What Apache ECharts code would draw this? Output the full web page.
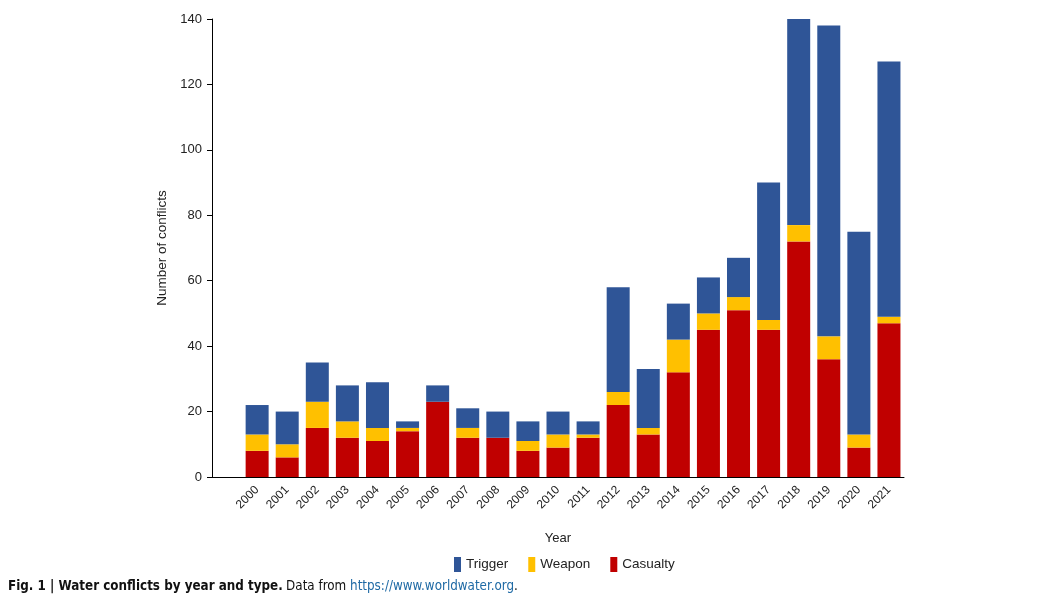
<!DOCTYPE html>
<html><head><meta charset="utf-8">
<script src="https://cdn.jsdelivr.net/npm/echarts@6/dist/echarts.min.js"></script>
<style>html,body{margin:0;padding:0;background:#fff}#c{width:1053px;height:613px}</style>
</head><body><div id="c"></div>
<script>
const years = ['', '2000','2001','2002','2003','2004','2005','2006','2007','2008','2009','2010','2011','2012','2013','2014','2015','2016','2017','2018','2019','2020','2021'];
const casualty = ['-', 8, 6, 15, 12, 11, 14, 23, 12, 12, 8, 9, 12, 22, 13, 32, 45, 51, 45, 72, 36, 9, 47];
const weapon   = ['-', 5, 4, 8, 5, 4, 1, 0, 3, 0, 3, 4, 1, 4, 2, 10, 5, 4, 3, 5, 7, 4, 2];
const trigger  = ['-', 9, 10, 12, 11, 14, 2, 5, 6, 8, 6, 7, 4, 32, 18, 11, 11, 12, 42, 63, 95, 62, 78];
const yTicks = [0, 20, 40, 60, 80, 100, 120, 140];

const chart = echarts.init(document.getElementById('c'));
const font = 'Liberation Sans, Arial, sans-serif';
const capFont = 'DejaVu Sans Condensed, Liberation Sans Narrow, Liberation Sans, sans-serif';
chart.setOption({
  animation: false,
  textStyle: { fontFamily: font },
  grid: { left: 212, right: 149, top: 19, bottom: 136, containLabel: false },
  legend: {
    data: ['Trigger', 'Weapon', 'Casualty'],
    left: 449, top: 552,
    icon: 'rect', itemWidth: 7, itemHeight: 15, itemGap: 20,
    textStyle: { fontSize: 13.5, color: '#222', fontFamily: font }
  },
  xAxis: {
    type: 'category', data: years,
    name: 'Year', nameLocation: 'middle', nameGap: 55,
    nameTextStyle: { fontSize: 13, color: '#222' },
    axisLine: { lineStyle: { color: '#000', width: 1 } },
    axisTick: { alignWithLabel: true, interval: (i) => i > 0, length: 5, lineStyle: { color: '#000' } },
    axisLabel: { interval: 0, rotate: 45, fontSize: 12, color: '#222', margin: 11 }
  },
  yAxis: {
    type: 'value', min: 0, max: 140, interval: 20,
    name: 'Number of conflicts', nameLocation: 'middle', nameGap: 39, nameRotate: 90,
    nameTextStyle: { fontSize: 13.5, color: '#222' },
    axisLine: { show: true, lineStyle: { color: '#000', width: 1 } },
    axisTick: { show: true, length: 5, lineStyle: { color: '#000' } },
    axisLabel: { fontSize: 13, color: '#222', margin: 10,
      formatter: (v) => yTicks.includes(v) ? String(v) : '' },
    splitLine: { show: false }
  },
  series: [
    { name: 'Casualty', type: 'bar', stack: 'a', data: casualty, barWidth: 23, itemStyle: { color: '#C00000' } },
    { name: 'Weapon', type: 'bar', stack: 'a', data: weapon, barWidth: 23, itemStyle: { color: '#FFC000' } },
    { name: 'Trigger', type: 'bar', stack: 'a', data: trigger, barWidth: 23, itemStyle: { color: '#2F5597' } }
  ],
  graphic: [{
    type: 'text', left: 8, top: 580,
    style: {
      text: '{b|Fig. 1 | Water conflicts by year and type.} {n|Data from }{u|https://www.worldwater.org}{n|.}',
      rich: {
        b: { fontFamily: capFont, fontWeight: 'bold', fontSize: 13.3, fill: '#111' },
        n: { fontFamily: capFont, fontSize: 13.3, fill: '#111' },
        u: { fontFamily: capFont, fontSize: 13.3, fill: '#1F6AA5' }
      }
    }
  }]
});
</script>
</body></html>
